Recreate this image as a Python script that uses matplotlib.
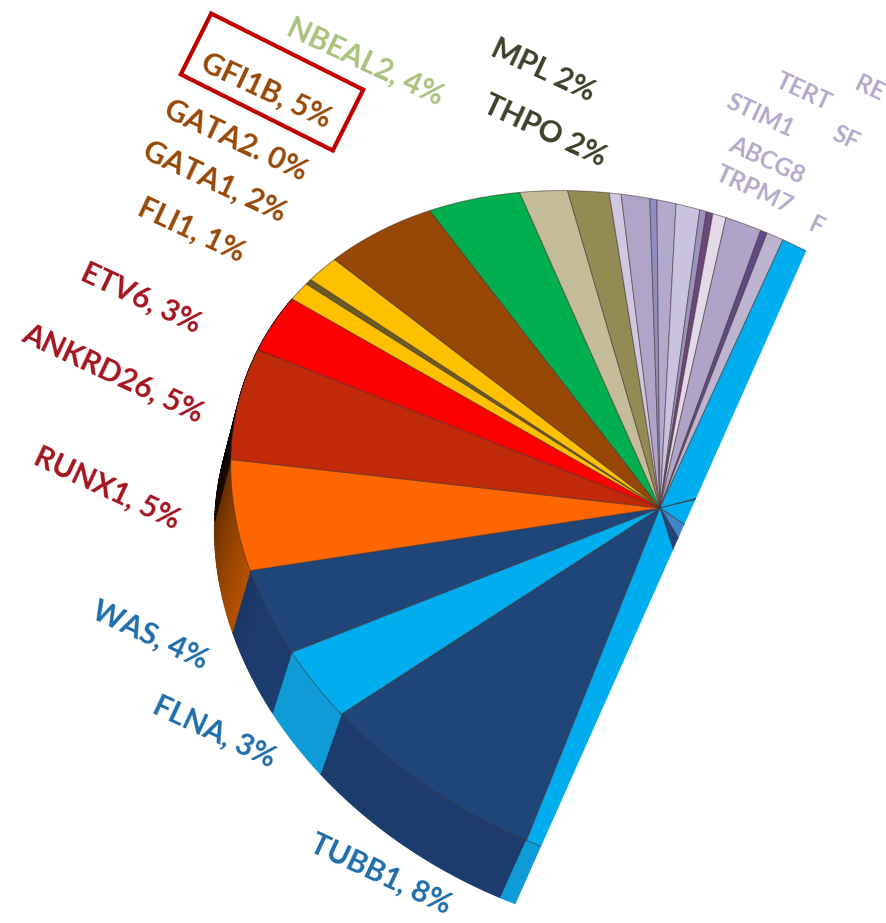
import numpy as np
import matplotlib
matplotlib.use("Agg")
import matplotlib.pyplot as plt
from matplotlib.patches import Polygon, Rectangle

plt.rcParams['font.family'] = ['Lato', 'DejaVu Sans']

# Share of the cohort per gene, clockwise from the front of the pie
labelled_genes = ["TUBB1", "FLNA", "WAS", "RUNX1", "ANKRD26", "ETV6", "FLI1",
                  "GATA2", "GATA1", "GFI1B", "NBEAL2", "THPO", "MPL"]
labelled_values = [7.7, 2.9, 3.6, 4.9, 5.4, 3.0, 1.0, 0.3, 1.5, 5.0, 4.05, 2.05, 1.75]
labelled_colors = ["#1F4579", "#00AEEF", "#1F4579", "#FF6600", "#C0290A", "#FF0000",
                   "#FFC000", "#6B5B20", "#FFC000", "#974706", "#00B050", "#C4BD97", "#948A54"]

# Small lilac group and the wedges that follow it
minor_values = [0.5, 1.2, 0.3, 0.8, 1.0, 0.28, 0.28, 0.56, 1.5, 0.28, 0.7]
minor_colors = ["#CFC8E0", "#B0A5C9", "#8E8FC0", "#B3A9CD", "#C9C3E0", "#9D93BF",
                "#6A4878", "#E3D9E8", "#AFA3C8", "#5F4A85", "#BDB5CF"]
rest_values = [11.9, 0.3, 16.4, 8.0, 3.9, 8.9]
rest_colors = ["#00AEEF", "#3A3A50", "#00AEEF", "#3F86C6", "#1F4579", "#00AEEF"]

values = np.array(labelled_values + minor_values + rest_values)
colors = labelled_colors + minor_colors + rest_colors

# Text around the pie
text_major = ["NBEAL2, 4%", "GFI1B, 5%", "GATA2. 0%", "GATA1, 2%", "FLI1, 1%", "ETV6, 3%",
              "ANKRD26, 5%", "RUNX1, 5%", "WAS, 4%", "FLNA, 3%", "TUBB1, 8%", "MPL 2%", "THPO 2%"]
text_major_xy = [(365, 62), (266, 91), (236, 140), (215, 181), (192, 230), (141, 298),
                 (113, 373), (107, 488), (150, 635), (214, 732), (381, 874), (543, 70), (545, 131)]
text_major_colors = ["#A9C27C", "#984807", "#984807", "#984807", "#984807", "#A5141E",
                     "#A5141E", "#A5141E", "#1F6DAA", "#1F6DAA", "#1F6DAA", "#403F2A", "#403F2A"]
text_minor = ["TERT", "RE", "STIM1", "SF", "ABCG8", "TRPM7", "F"]
text_minor_xy = [(803, 92), (870, 88), (760, 115), (846, 138), (767, 160), (754, 190), (816, 226)]

# Scene geometry in pixels
W, H = 887, 923
CX, CY = 660, 508
TILT = np.radians(24)
RX, RY, PERSP = 430.0, 323.5, 0.0965
DEPTH = 63.0
NARROW = 0.975
CUT = 29.0
START = -1.6


def to_screen(xp, yp):
    xp, yp = np.asarray(xp, float), np.asarray(yp, float)
    return (CX + xp * np.cos(TILT) - yp * np.sin(TILT),
            CY + xp * np.sin(TILT) + yp * np.cos(TILT))


def rim(beta_deg):
    # Pie circle seen in perspective: beta runs clockwise from the front
    b = np.radians(beta_deg)
    u, v = -np.sin(b), np.cos(b)
    w = 1 - PERSP * v
    return RX * u / w, RY * v / w


def side_shade(beta):
    # Side wall darkens towards the left edge
    return np.interp(beta, [45, 52, 68, 78], [1.0, 0.85, 0.5, 0.08])


def add_wall(s0, s1, col, pieces):
    steps = np.linspace(s0, s1, pieces + 1)
    base = np.array(matplotlib.colors.to_rgb(col))
    for a, b in zip(steps[:-1], steps[1:]):
        arc = np.linspace(a, b, 24 if pieces == 1 else 3)
        x0, y0 = rim(arc)
        qx, qy = to_screen(np.r_[x0, x0[::-1] * NARROW], np.r_[y0, y0[::-1] + DEPTH])
        rgb = tuple(base * side_shade((a + b) / 2))
        for art in ax.fill(qx, qy, facecolor=rgb, edgecolor=rgb, lw=0.8):
            art.set_clip_path(clip)


fig = plt.figure(figsize=(W / 100, H / 100), dpi=100)
ax = fig.add_axes([0, 0, 1, 1])
ax.set_xlim(0, W)
ax.set_ylim(H, 0)
ax.axis("off")

# The visible part of the sheet ends along a slanted edge
cx0, cy0 = to_screen([-3000, CUT, CUT, -3000], [-3000, -3000, 3000, 3000])
clip = Polygon(np.column_stack([cx0, cy0]), closed=True, transform=ax.transData,
               fc="none", ec="none")
ax.add_patch(clip)

shares = values / values.sum() * 360
edges = START + np.concatenate([[0], np.cumsum(shares)])

side_colors = {"#1F4579": "#1C3C6E", "#00AEEF": "#0E9BD8", "#FF6600": "#C85A00",
               "#C0290A": "#3A1505"}

# Outer wall: the front wedges, then the tail of the last wedge past the front
for b0, b1, col in zip(edges[:-1], edges[1:], colors):
    if b0 > 95:
        continue
    shaded = b1 > 45
    add_wall(b0, b1, side_colors.get(col, col), int((b1 - b0) * 2) if shaded else 1)
add_wall(edges[-1] - 360 - 8, edges[-1] - 360, side_colors[colors[-1]], 1)

# Top face
for b0, b1, col in zip(edges[:-1], edges[1:], colors):
    steps = np.linspace(b0, b1, max(3, int((b1 - b0) * 2)))
    x0, y0 = rim(steps)
    px, py = to_screen(np.r_[0, x0], np.r_[0, y0])
    edge = (0.25, 0.18, 0.18, 0.55)
    for art in ax.fill(px, py, facecolor=col, edgecolor=edge, lw=0.7):
        art.set_clip_path(clip)

for label, (x, y), col in zip(text_major, text_major_xy, text_major_colors):
    ax.text(x, y, label, color=col, fontsize=21.5, fontweight="bold", rotation=-25,
            ha="center", va="center", rotation_mode="anchor")
for label, (x, y) in zip(text_minor, text_minor_xy):
    t = ax.text(x, y, label, color="#B5A9CB", fontsize=17.5, fontweight="bold", rotation=-25,
                ha="center", va="center", rotation_mode="anchor")
    t.set_clip_path(clip)

# Highlight box round the GFI1B label
ax.add_patch(Rectangle((272 - 85, 82 - 34), 170, 68, angle=26.6, rotation_point="center",
                       fc="none", ec="#C00000", lw=3))

fig.savefig("out.png", dpi=100, facecolor="white")
